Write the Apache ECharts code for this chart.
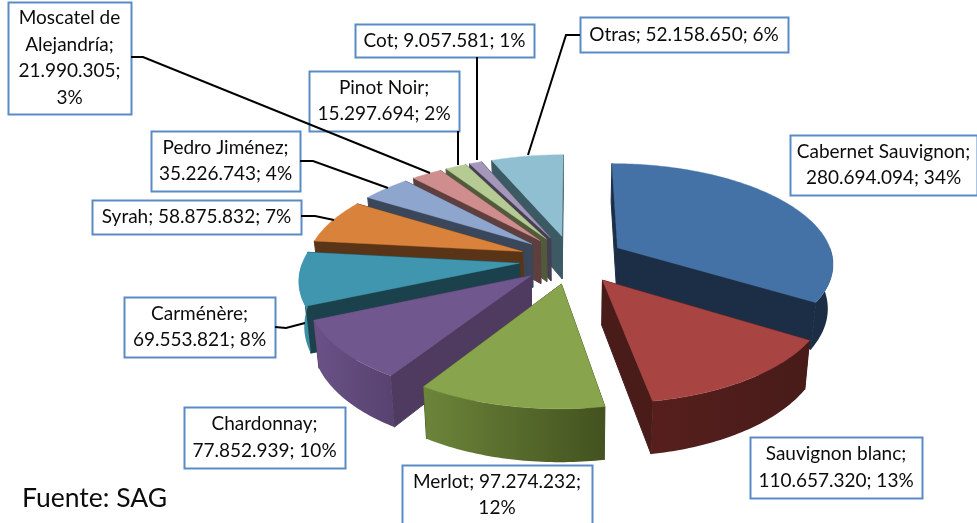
<!DOCTYPE html>
<html>
<head>
<meta charset="utf-8">
<script src="https://cdn.jsdelivr.net/npm/echarts@6/dist/echarts.min.js"></script>
<style>
  html, body { margin: 0; padding: 0; background: #fff; }
  #main { width: 977px; height: 523px; }
</style>
</head>
<body>
<div id="main"></div>
<script>
// datos del grafico
const categories = ["Cabernet Sauvignon", "Sauvignon blanc", "Merlot", "Chardonnay", "Carménère", "Syrah", "Pedro Jiménez", "Moscatel de Alejandría", "Pinot Noir", "Cot", "Otras"];
const values = [280694094, 110657320, 97274232, 77852939, 69553821, 58875832, 35226743, 21990305, 15297694, 9057581, 52158650];
const labelTexts = [
  "Cabernet Sauvignon;\n280.694.094; 34%",
  "Sauvignon blanc;\n110.657.320; 13%",
  "Merlot; 97.274.232;\n12%",
  "Chardonnay;\n77.852.939; 10%",
  "Carménère;\n69.553.821; 8%",
  "Syrah; 58.875.832; 7%",
  "Pedro Jiménez;\n35.226.743; 4%",
  "Moscatel de\nAlejandría;\n21.990.305;\n3%",
  "Pinot Noir;\n15.297.694; 2%",
  "Cot; 9.057.581; 1%",
  "Otras; 52.158.650; 6%"
];

// colores: cara superior, lado, borde exterior claro y oscuro
const topColors = ["#4471a6", "#a84543", "#88a44d", "#70588e", "#4096ae", "#d9823b", "#8ea5cd", "#cf8e8d", "#b6cb93", "#a497b9", "#8fbfd1"];
const sideColors = ["#1b2e46", "#491c1a", "#465527", "#4f3a60", "#1b424c", "#5a3416", "#3a465a", "#5f3f3e", "#4f5b3b", "#463e52", "#3c5a63"];
const rimLight = ["#1b2e46", "#561f1d", "#6c853a", "#6a5286", "#3f95ad", "#5a3416", "#3a465a", "#5f3f3e", "#4f5b3b", "#463e52", "#3c5a63"];
const rimDark = ["#1b2e46", "#471b19", "#43521f", "#574270", "#3a8aa0", "#5a3416", "#3a465a", "#5f3f3e", "#4f5b3b", "#463e52", "#3c5a63"];
// orden de pintado, de atras hacia adelante
const drawOrder = [10, 9, 8, 7, 6, 5, 4, 3, 0, 1, 2];

// proyeccion del disco
const cx = 572, cy = 259.4, radiusX = 216, radiusY = 99.2, persp = 0.142, explode = 0.245, depth = 44, bottomShrink = 0.98;

// cajas de etiquetas [x, y, ancho, alto] y lineas guia
const labelBoxes = [
  [790, 135, 187, 60], [750, 437, 172, 61], [402, 465, 190, 60], [184, 407, 161, 61], [124, 297, 151, 60],
  [92, 200, 209, 34], [151, 131, 149, 60], [8, 2, 123, 112], [309, 71, 150, 60], [355, 24, 179, 33], [580, 17, 208, 35]
];
const leaderLines = [
  [[131, 57], [143, 57], [430, 173]],
  [[300, 161], [313, 161], [388, 188]],
  [[301, 216], [315, 216], [334, 220]],
  [[458, 131], [458, 165]],
  [[477, 57], [477, 160]],
  [[580, 35], [566, 35], [528, 155]],
  [[275, 327], [286, 328], [305, 323]]
];

const total = values.reduce((a, b) => a + b, 0);
const startAngles = [];
let acc = 0;
values.forEach((v) => {
  startAngles.push(acc);
  acc += (v / total) * 360;
});

function project(u, v) {
  const w = 1 + persp * v;
  return { x: cx + (radiusX * u) / w, y: cy - (radiusY * v) / w, d: depth / w };
}

// punto inferior del lado, un poco hacia el centro
function below(p) {
  return [cx + (p.x - cx) * bottomShrink, p.y + p.d];
}

function renderSlice(params, api) {
  const order = params.dataIndex;
  const i = api.value(0);
  const a0 = startAngles[i];
  const a1 = a0 + (api.value(1) / total) * 360;
  const mid = (((a0 + a1) / 2) * Math.PI) / 180;
  const ax = explode * Math.sin(mid);
  const ay = explode * Math.cos(mid);
  const rim = (deg) => {
    const r = (deg * Math.PI) / 180;
    return project(ax + Math.sin(r), ay + Math.cos(r));
  };
  const apex = project(ax, ay);
  const children = [];
  const add = (points, fill, z, lineWidth) => {
    children.push({
      type: "polygon",
      z2: order * 10 + z,
      shape: { points },
      style: { fill, stroke: typeof fill === "string" ? fill : rimDark[i], lineWidth }
    });
  };

  // lados radiales
  [a0, a1].forEach((deg) => {
    const p = rim(deg);
    add([[apex.x, apex.y], [p.x, p.y], below(p), below(apex)], sideColors[i], 1, 1);
  });

  // borde exterior, solo la mitad delantera
  const from = Math.max(a0, 90);
  const to = Math.min(a1, 270);
  if (to > from) {
    const up = [];
    const down = [];
    for (let deg = from; deg < to; deg += 1) {
      const p = rim(deg);
      up.push([p.x, p.y]);
      down.unshift(below(p));
    }
    const last = rim(to);
    up.push([last.x, last.y]);
    down.unshift(below(last));
    add(up.concat(down), new echarts.graphic.LinearGradient(0, 0, 1, 0, [
      { offset: 0, color: rimLight[i] },
      { offset: 1, color: rimDark[i] }
    ]), 2, 0);
  }

  // cara superior
  const face = [[apex.x, apex.y]];
  for (let deg = a0; deg < a1; deg += 1) {
    const p = rim(deg);
    face.push([p.x, p.y]);
  }
  const end = rim(a1);
  face.push([end.x, end.y]);
  add(face, topColors[i], 3, 0.4);

  return { type: "group", children };
}

const graphics = [];
labelBoxes.forEach((b, i) => {
  graphics.push({
    type: "rect",
    z: 10,
    shape: { x: b[0] + 0.5, y: b[1] + 0.5, width: b[2], height: b[3] },
    style: { fill: "#fff", stroke: "#5b8bc5", lineWidth: 2 }
  });
  graphics.push({
    type: "text",
    z: 11,
    x: b[0] + b[2] / 2,
    y: b[1] + b[3] / 2,
    style: {
      text: labelTexts[i],
      fill: "#0c0c0c",
      font: '19px Lato, "Noto Sans", sans-serif',
      lineHeight: 26.5,
      align: "center",
      verticalAlign: "middle"
    }
  });
});
leaderLines.forEach((pts) => {
  graphics.push({
    type: "polyline",
    z: 12,
    shape: { points: pts },
    style: { fill: null, stroke: "#000", lineWidth: 2 }
  });
});
graphics.push({
  type: "text",
  z: 11,
  x: 22,
  y: 498,
  style: {
    text: "Fuente: SAG",
    fill: "#0c0c0c",
    font: '26.5px Lato, "Noto Sans", sans-serif',
    align: "left",
    verticalAlign: "middle"
  }
});

const myChart = echarts.init(document.getElementById("main"));
myChart.setOption({
  animation: false,
  series: [
    {
      type: "custom",
      coordinateSystem: "none",
      renderItem: renderSlice,
      silent: true,
      data: drawOrder.map((i) => ({ name: categories[i], value: [i, values[i]] }))
    }
  ],
  graphic: graphics
});
</script>
</body>
</html>
